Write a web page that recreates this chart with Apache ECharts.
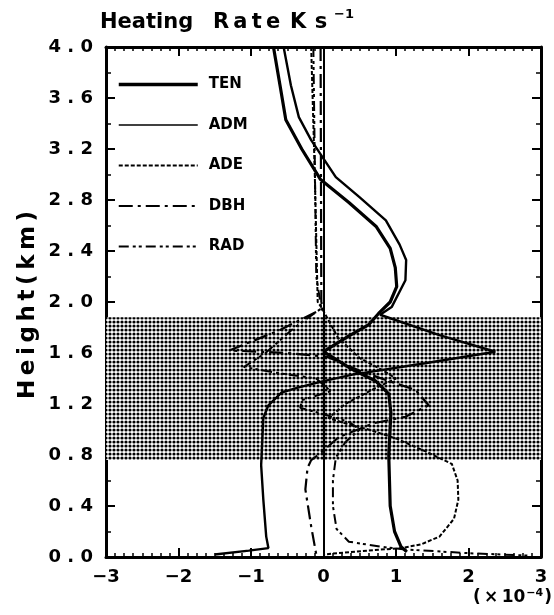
<!DOCTYPE html>
<html>
<head>
<meta charset="utf-8">
<script src="https://cdn.jsdelivr.net/npm/echarts@6/dist/echarts.min.js"></script>
<style>
html, body { margin: 0; padding: 0; background: #fff; }
#chart { width: 554px; height: 615px; }
</style>
</head>
<body>
<div id="chart"></div>
<script>
// heating rate in units of 1e-4 K/s (x) against height in km (y)
const tenX = [-0.69, -0.6, -0.52, -0.3, -0.04, 0.35, 0.73, 0.92, 0.99, 1.01, 0.92, 0.76, 0.62, 0.34, 0.0, 0.4, 0.72, 0.9, 0.93, 0.9, 0.92, 0.98, 1.07, 1.15];
const tenY = [4.0, 3.7, 3.43, 3.2, 2.96, 2.78, 2.59, 2.42, 2.27, 2.12, 2.0, 1.91, 1.82, 1.73, 1.61, 1.47, 1.38, 1.28, 1.13, 0.8, 0.4, 0.2, 0.08, 0.04];

const admX = [-0.55, -0.45, -0.34, -0.17, 0.17, 0.5, 0.86, 1.05, 1.14, 1.13, 0.94, 0.78, 1.6, 2.37, 1.4, 0.4, 0.0, -0.34, -0.58, -0.76, -0.83, -0.86, -0.83, -0.79, -0.76, -1.03, -1.5];
const admY = [4.0, 3.7, 3.45, 3.27, 2.98, 2.82, 2.64, 2.45, 2.33, 2.17, 1.96, 1.9, 1.74, 1.61, 1.52, 1.43, 1.38, 1.33, 1.29, 1.19, 1.09, 0.72, 0.45, 0.16, 0.07, 0.05, 0.02];

const adeX = [-0.17, -0.12, -0.08, -0.02, 0.2, 0.5, 0.8, 1.0, 0.7, 0.3, 0.07, 0.34, 0.62, 1.0, 1.4, 1.77, 1.85, 1.86, 1.8, 1.6, 1.35, 1.08, 0.6, 0.2, 0.0];
const adeY = [4.0, 3.0, 2.0, 1.95, 1.72, 1.56, 1.47, 1.4, 1.32, 1.2, 1.09, 1.04, 1.0, 0.93, 0.83, 0.73, 0.6, 0.45, 0.3, 0.16, 0.1, 0.07, 0.05, 0.03, 0.02];

const dbhX = [-0.04, -0.03, 0.0, -0.6, -1.3, -0.5, 0.05, 0.5, 0.9, 1.27, 1.45, 1.13, 0.7, 0.52, 0.21, -0.03, -0.17, -0.22, -0.25, -0.17, -0.1];
const dbhY = [4.0, 2.0, 1.95, 1.78, 1.62, 1.6, 1.57, 1.46, 1.38, 1.31, 1.19, 1.1, 1.05, 1.01, 0.94, 0.82, 0.76, 0.7, 0.53, 0.24, 0.02];

const radX = [-0.14, -0.1, -0.03, -0.4, -0.8, -1.1, -0.6, -0.1, 0.1, -0.3, -0.32, 0.0, 0.35, 0.5, 0.3, 0.17, 0.13, 0.13, 0.18, 0.35, 0.8, 1.1, 2.0, 2.85];
const radY = [4.0, 2.2, 1.95, 1.8, 1.6, 1.49, 1.44, 1.4, 1.3, 1.23, 1.17, 1.12, 1.06, 1.0, 0.9, 0.78, 0.6, 0.4, 0.22, 0.12, 0.08, 0.06, 0.03, 0.01];

// shaded layer (km)
const bandBottom = 0.76;
const bandTop = 1.88;

const names = ['TEN', 'ADM', 'ADE', 'DBH', 'RAD'];
const legendWidths = [3.5, 1.3, 2, 2.2, 2];

function zip(xs, ys) {
  return xs.map((x, i) => [x, ys[i]]);
}

// dotted screen for the shaded layer
const dot = document.createElement('canvas');
dot.width = 4;
dot.height = 4;
const dctx = dot.getContext('2d');
dctx.fillStyle = '#fff';
dctx.fillRect(0, 0, 4, 4);
dctx.fillStyle = '#000';
dctx.beginPath();
dctx.arc(2, 2, 1.6, 0, Math.PI * 2);
dctx.fill();

const font = 'DejaVu Sans';
const chart = echarts.init(document.getElementById('chart'));

const tickCommon = {
  axisLine: { show: true, onZero: false, lineStyle: { color: '#000', width: 3 } },
  axisTick: { show: true, inside: true, length: 9, lineStyle: { color: '#000', width: 2 } },
  splitLine: { show: false },
  minorSplitLine: { show: false }
};
const xMinor = { minorTick: { show: true, splitNumber: 8, length: 4, lineStyle: { color: '#000', width: 1.5 } } };
const yMinor = { minorTick: { show: true, splitNumber: 2, length: 5, lineStyle: { color: '#000', width: 1.5 } } };

function lineSeries(name, xs, ys, width, type) {
  return {
    name: name,
    type: 'line',
    data: zip(xs, ys),
    symbol: 'none',
    z: 3,
    color: '#000',
    lineStyle: { color: '#000', width: width, type: type }
  };
}

const option = {
  animation: false,
  backgroundColor: '#fff',
  grid: { left: 106, right: 13, top: 47, bottom: 58 },
  xAxis: [
    Object.assign({
      type: 'value', min: -3, max: 3, interval: 1, position: 'bottom',
      axisLabel: {
        margin: 11, color: '#000', fontFamily: font, fontWeight: 'bold', fontSize: 18,
        formatter: v => v < 0 ? '\u2212' + (-v) : String(v)
      }
    }, tickCommon, xMinor),
    Object.assign({
      type: 'value', min: -3, max: 3, interval: 1, position: 'top',
      axisLabel: { show: false }
    }, tickCommon, xMinor)
  ],
  yAxis: [
    Object.assign({
      type: 'value', min: 0, max: 4, interval: 0.4, position: 'left',
      axisLabel: {
        margin: 13, color: '#000', fontFamily: font, fontWeight: 'bold', fontSize: 18,
        formatter: v => v.toFixed(1).split('').join(' ')
      }
    }, tickCommon, yMinor),
    Object.assign({
      type: 'value', min: 0, max: 4, interval: 0.4, position: 'right',
      axisLabel: { show: false }
    }, tickCommon, yMinor)
  ],
  legend: {
    data: names.map((n, i) => ({ name: n, lineStyle: { width: legendWidths[i] } })),
    orient: 'vertical',
    left: 112,
    top: 72,
    itemWidth: 79,
    itemHeight: 12,
    itemGap: 25.5,
    itemStyle: { opacity: 0 },
    textStyle: {
      color: '#000', fontFamily: font, fontWeight: 'bold', fontSize: 15,
      lineHeight: 12, padding: [0, 0, 0, 6]
    }
  },
  graphic: [
    { type: 'text', left: 100, top: 12, style: { text: 'Heating', font: 'bold 21px "DejaVu Sans"', fill: '#000' } },
    { type: 'text', left: 213, top: 12, style: { text: 'R\u2009a\u2009t\u2009e', font: 'bold 21px "DejaVu Sans"', fill: '#000' } },
    { type: 'text', left: 290, top: 12, style: { text: 'K\u2009\u2009s', font: 'bold 21px "DejaVu Sans"', fill: '#000' } },
    { type: 'text', left: 334, top: 8, style: { text: '\u22121', font: 'bold 13px "DejaVu Sans"', fill: '#000' } },
    {
      type: 'text', x: 28, y: 305, rotation: Math.PI / 2,
      style: {
        text: 'H\u2009e\u2009i\u2009g\u2009h\u2009t\u2009(\u2009k\u2009m\u2009)',
        font: 'bold 23px "DejaVu Sans"', fill: '#000', align: 'center', verticalAlign: 'middle'
      }
    },
    {
      type: 'text', right: 2, top: 588,
      style: {
        text: '{a|(\u2009\u00d7\u200910}{s|\u22124}{a|)}',
        rich: {
          a: { font: 'bold 17px "DejaVu Sans"', fill: '#000', verticalAlign: 'bottom' },
          s: { font: 'bold 11px "DejaVu Sans"', fill: '#000', verticalAlign: 'top', padding: [0, 1, 7, 1] }
        }
      }
    }
  ],
  series: [
    {
      name: 'layer',
      type: 'line',
      data: [],
      z: 1,
      markArea: {
        silent: true,
        itemStyle: { color: { image: dot, repeat: 'repeat' } },
        data: [[{ yAxis: bandBottom }, { yAxis: bandTop }]]
      },
      markLine: {
        silent: true,
        symbol: 'none',
        label: { show: false },
        lineStyle: { color: '#000', width: 2, type: 'solid' },
        data: [{ xAxis: 0 }]
      }
    },
    lineSeries('TEN', tenX, tenY, 3.2, 'solid'),
    lineSeries('ADM', admX, admY, 2.4, 'solid'),
    lineSeries('ADE', adeX, adeY, 2, [4, 2]),
    lineSeries('DBH', dbhX, dbhY, 2.2, [14, 5, 3, 5]),
    lineSeries('RAD', radX, radY, 2, [10, 4, 3, 3, 3, 4])
  ]
};

chart.setOption(option);
</script>
</body>
</html>
